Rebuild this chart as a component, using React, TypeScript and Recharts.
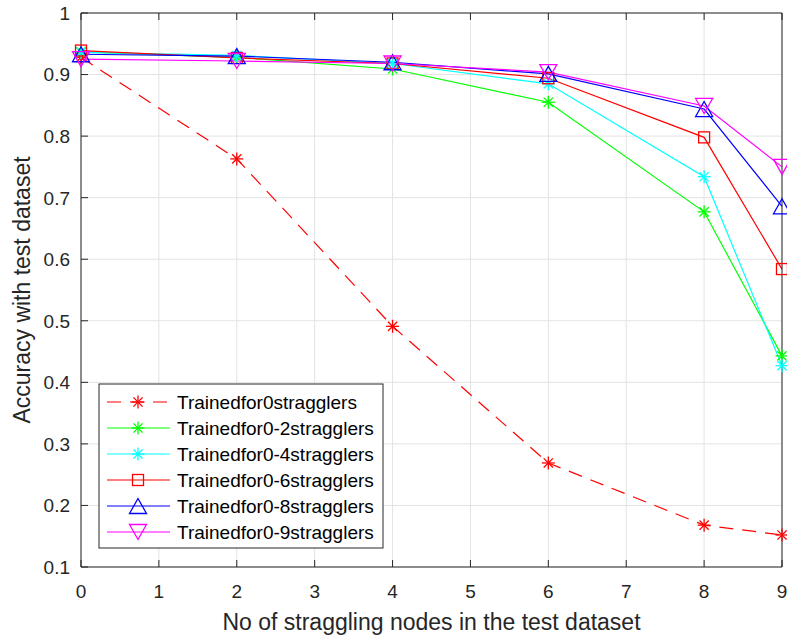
import React from 'react';
import { LineChart, Line, XAxis, YAxis, CartesianGrid } from 'recharts';

// straggling nodes in the test set (x positions of the markers)
const stragglers = [0, 2, 4, 6, 8, 9];

// accuracy
const trained0 = [0.928, 0.763, 0.491, 0.269, 0.168, 0.152];
const trained0to2 = [0.937, 0.928, 0.909, 0.855, 0.677, 0.443];
const trained0to4 = [0.936, 0.931, 0.918, 0.885, 0.734, 0.427];
const trained0to6 = [0.939, 0.927, 0.918, 0.894, 0.798, 0.584];
const trained0to8 = [0.933, 0.930, 0.920, 0.901, 0.844, 0.686];
const trained0to9 = [0.925, 0.922, 0.918, 0.904, 0.849, 0.750];

const xTicks = [0, 1, 2, 3, 4, 5, 6, 7, 8, 9];
const yTicks = [0.1, 0.2, 0.3, 0.4, 0.5, 0.6, 0.7, 0.8, 0.9, 1];

type Shape = 'asterisk' | 'square' | 'up' | 'down';

const SERIES: { key: string; name: string; values: number[]; color: string; shape: Shape; dashed?: boolean }[] = [
  { key: 's0', name: 'Trainedfor0stragglers', values: trained0, color: '#ff0000', shape: 'asterisk', dashed: true },
  { key: 's2', name: 'Trainedfor0-2stragglers', values: trained0to2, color: '#00ff00', shape: 'asterisk' },
  { key: 's4', name: 'Trainedfor0-4stragglers', values: trained0to4, color: '#00ffff', shape: 'asterisk' },
  { key: 's6', name: 'Trainedfor0-6stragglers', values: trained0to6, color: '#ff0000', shape: 'square' },
  { key: 's8', name: 'Trainedfor0-8stragglers', values: trained0to8, color: '#0000ff', shape: 'up' },
  { key: 's9', name: 'Trainedfor0-9stragglers', values: trained0to9, color: '#ff00ff', shape: 'down' },
];

const data = stragglers.map((x, i) => {
  const row: Record<string, number> = { x };
  SERIES.forEach((s) => {
    row[s.key] = s.values[i];
  });
  return row;
});

const FONT = '"Liberation Sans", Arial, Helvetica, sans-serif';
const INK = '#262626';
const GRID = '#e3e3e3';
const DASH = '14 9';
const TICK_LEN = 7;

function Marker({ cx, cy, shape, color }: { cx: number; cy: number; shape: Shape; color: string }) {
  const sw = 1.3;
  if (shape === 'asterisk') {
    const r = 6.5;
    const d = 4.6;
    return (
      <g stroke={color} strokeWidth={sw}>
        <line x1={cx - r} y1={cy} x2={cx + r} y2={cy} />
        <line x1={cx} y1={cy - r} x2={cx} y2={cy + r} />
        <line x1={cx - d} y1={cy - d} x2={cx + d} y2={cy + d} />
        <line x1={cx - d} y1={cy + d} x2={cx + d} y2={cy - d} />
      </g>
    );
  }
  if (shape === 'square') {
    return <rect x={cx - 5.5} y={cy - 5.5} width={11} height={11} fill="none" stroke={color} strokeWidth={sw} />;
  }
  const w = 8.5;
  const h = 7.5;
  const pts =
    shape === 'up'
      ? `${cx},${cy - h} ${cx + w},${cy + h} ${cx - w},${cy + h}`
      : `${cx},${cy + h} ${cx + w},${cy - h} ${cx - w},${cy - h}`;
  return <polygon points={pts} fill="none" stroke={color} strokeWidth={sw} />;
}

const fmtY = (v: number) => (v === 1 ? '1' : v.toFixed(1));

function BottomTick({ x, y, payload }: any) {
  return (
    <g>
      <line x1={x} y1={y} x2={x} y2={y - TICK_LEN} stroke={INK} />
      <text x={x} y={y + 31} textAnchor="middle" fill={INK} fontSize={19} fontFamily={FONT}>
        {payload.value}
      </text>
    </g>
  );
}

function TopTick({ x, y }: any) {
  return <line x1={x} y1={y} x2={x} y2={y + TICK_LEN} stroke={INK} />;
}

function LeftTick({ x, y, payload }: any) {
  return (
    <g>
      <line x1={x} y1={y} x2={x + TICK_LEN} y2={y} stroke={INK} />
      <text x={x - 11} y={y} dy="0.36em" textAnchor="end" fill={INK} fontSize={19} fontFamily={FONT}>
        {fmtY(payload.value)}
      </text>
    </g>
  );
}

function RightTick({ x, y }: any) {
  return <line x1={x} y1={y} x2={x - TICK_LEN} y2={y} stroke={INK} />;
}

function XTitle({ viewBox }: any) {
  const cx = viewBox ? viewBox.x + viewBox.width / 2 : 431;
  const top = viewBox ? viewBox.y : 567;
  return (
    <text x={cx} y={top + 63} textAnchor="middle" fill={INK} fontSize={23} fontFamily={FONT}>
      No of straggling nodes in the test dataset
    </text>
  );
}

function YTitle({ viewBox }: any) {
  const cy = viewBox ? viewBox.y + viewBox.height / 2 : 290;
  const bx = 30;
  return (
    <text
      x={bx}
      y={cy}
      transform={`rotate(-90 ${bx} ${cy})`}
      textAnchor="middle"
      fill={INK}
      fontSize={23}
      fontFamily={FONT}
    >
      Accuracy with test dataset
    </text>
  );
}

function LegendBox() {
  const rowH = 26;
  return (
    <svg
      width={286}
      height={166}
      style={{ position: 'absolute', left: 98, top: 383, overflow: 'visible' }}
    >
      <rect x={1} y={1} width={284} height={164} fill="#fff" stroke={INK} strokeWidth={1} />
      {SERIES.map((s, i) => {
        const cy = 19 + i * rowH;
        return (
          <g key={s.key}>
            <line
              x1={9}
              y1={cy}
              x2={72}
              y2={cy}
              stroke={s.color}
              strokeWidth={1.2}
              strokeDasharray={s.dashed ? DASH : undefined}
            />
            <Marker cx={40} cy={cy} shape={s.shape} color={s.color} />
            <text x={79} y={cy + 7} fontSize={19} fontFamily={FONT} fill="#000">
              {s.name}
            </text>
          </g>
        );
      })}
    </svg>
  );
}

export default function App() {
  return (
    <div style={{ position: 'absolute', left: 0, top: 0, width: 787, height: 638, background: '#fff' }}>
      <LineChart width={787} height={638} data={data} margin={{ top: 12, right: 4, bottom: 41, left: 40 }}>
        <CartesianGrid stroke={GRID} strokeWidth={1} />
        <XAxis
          dataKey="x"
          type="number"
          domain={[0, 9]}
          ticks={xTicks}
          height={30}
          tickSize={0}
          tickMargin={0}
          tickLine={false}
          axisLine={{ stroke: INK }}
          tick={<BottomTick />}
          interval={0}
          label={<XTitle />}
        />
        <XAxis
          xAxisId="top"
          orientation="top"
          dataKey="x"
          type="number"
          domain={[0, 9]}
          ticks={xTicks}
          height={1}
          tickSize={0}
          tickMargin={0}
          tickLine={false}
          axisLine={{ stroke: INK }}
          tick={<TopTick />}
          interval={0}
        />
        <YAxis
          type="number"
          domain={[0.1, 1]}
          ticks={yTicks}
          width={41}
          tickSize={0}
          tickMargin={0}
          tickLine={false}
          axisLine={{ stroke: INK }}
          tick={<LeftTick />}
          interval={0}
          label={<YTitle />}
        />
        <YAxis
          yAxisId="right"
          orientation="right"
          type="number"
          domain={[0.1, 1]}
          ticks={yTicks}
          width={1}
          tickSize={0}
          tickMargin={0}
          tickLine={false}
          axisLine={{ stroke: INK }}
          tick={<RightTick />}
          interval={0}
        />
        {SERIES.map((s) => (
          <Line
            key={s.key}
            dataKey={s.key}
            name={s.name}
            type="linear"
            stroke={s.color}
            strokeWidth={1.2}
            strokeDasharray={s.dashed ? DASH : undefined}
            isAnimationActive={false}
            dot={(p: any) => (
              <Marker key={`${s.key}-${p.index}`} cx={p.cx} cy={p.cy} shape={s.shape} color={s.color} />
            )}
            activeDot={false}
          />
        ))}
      </LineChart>
      <LegendBox />
    </div>
  );
}
